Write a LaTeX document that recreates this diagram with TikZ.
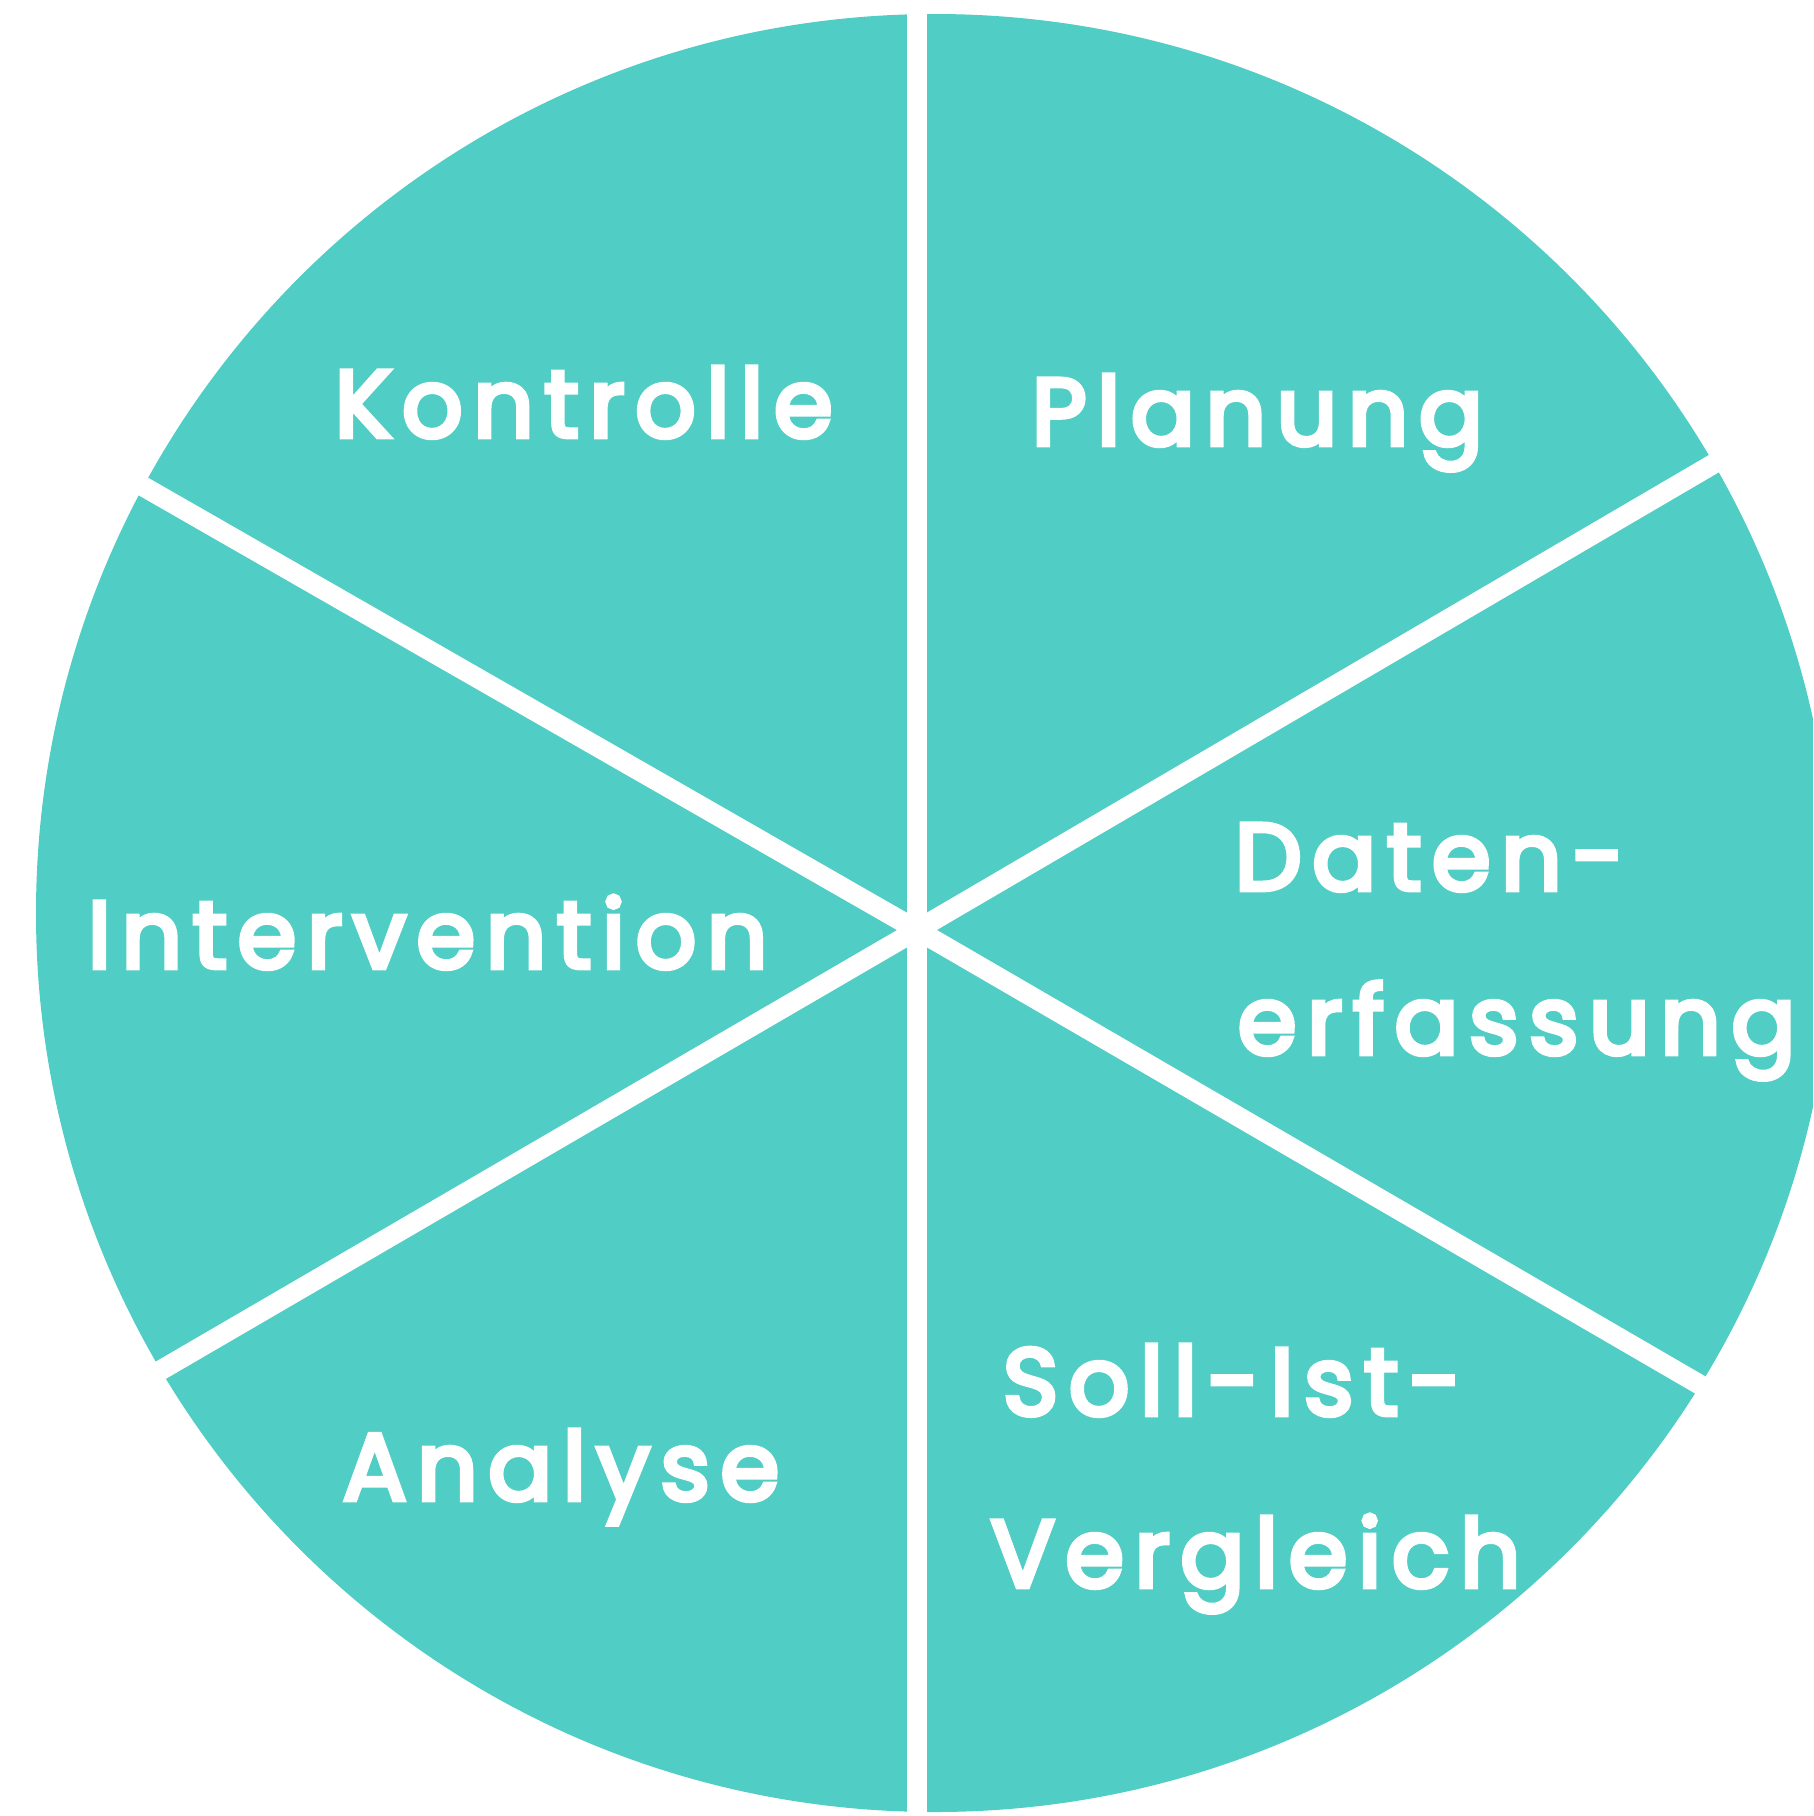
\documentclass[tikz,border=0pt]{standalone}
\usepackage{fontspec}
\newfontfamily\hand[LetterSpace=11, FakeBold=5]{Poppins}
\definecolor{kreis}{RGB}{80,205,196}
\tikzset{
	phase/.style = {text=white, font=\hand\fontsize{27}{30}\selectfont, inner sep=0pt, anchor=base west},
	trenner/.style = {draw=white, line width=2mm},
}
\begin{document}
\begin{tikzpicture}[x = 0.1mm, y = -0.1mm]
		\useasboundingbox (0,0) rectangle (1813,1816);
		\clip (0,0) rectangle (1813,1816);
		\path [fill=kreis] (935,913) circle [radius=899];
		\coordinate (mitte) at (917,930);
		\coordinate (oben) at (917,14);
		\coordinate (unten) at (917,1814);
		\coordinate (ol) at (139,484);
		\coordinate (or) at (1715,463);
		\coordinate (ul) at (156,1373);
		\coordinate (ur) at (1709,1390);
		\path [trenner] (oben) -- (unten);
		\path [trenner] (ol) -- (mitte) -- (ur);
		\path [trenner] (or) -- (mitte) -- (ul);
		\node [phase] (kontrolle) at (334,437) {Kontrolle};
		\node [phase] (planung) at (1031,445) {Planung};
		\node [phase] (daten) at (1234,890) {Daten-};
		\node [phase] (erfassung) at (1237,1054) {erfassung};
		\node [phase] (intervention) at (87,968) {Intervention};
		\node [phase] (soll) at (1002,1415) {Soll-Ist-};
		\node [phase] (vergleich) at (990,1587) {Vergleich};
		\node [phase] (analyse) at (342,1500) {Analyse};
	\end{tikzpicture}
\end{document}
